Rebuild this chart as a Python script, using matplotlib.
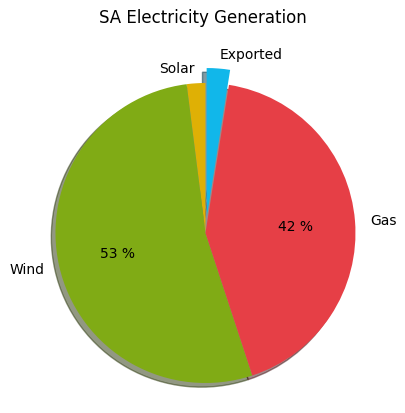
import matplotlib
matplotlib.use('Agg')
import matplotlib.pyplot as plt

labels = ['Solar', 'Wind', 'Gas', 'Exported']
values = [2.0, 53.0, 42.4, 2.5]
colours = ['#dfb005', '#80ab15', '#e63f46', '#11b7ea']
explode = [0, 0, 0, 0.1]

def show_pct(p):
    if p > 5:
        return f'{p:.0f} %'
    return ''

fig = plt.figure(figsize=(4.05, 4.14), dpi=100)
ax = fig.add_axes([0.0444, -0.0181, 0.9259, 0.9058])
ax.pie(values, labels=labels, colors=colours, explode=explode,
       autopct=show_pct, shadow=True, startangle=90)
ax.set_aspect('equal')
fig.text(0.5, 1 - 18 / 414, 'SA Electricity Generation', ha='center', va='center', fontsize=12)

fig.savefig('out.png', dpi=100)
